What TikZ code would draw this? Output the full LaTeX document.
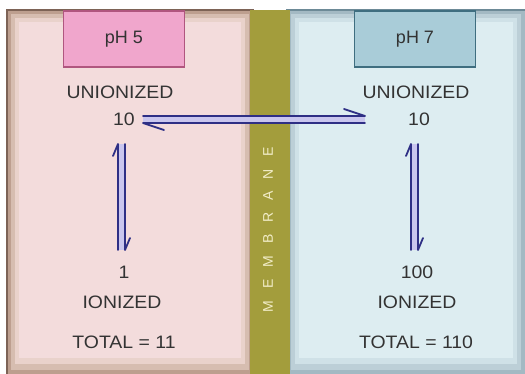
\documentclass[tikz,border=0pt]{standalone}
\usepackage{fontspec}
\setmainfont{Liberation Sans}
\definecolor{lpEdge}{HTML}{7D6356}
\definecolor{lpA}{HTML}{BD9F8F}
\definecolor{lpB}{HTML}{D6BDB0}
\definecolor{lpC}{HTML}{E9D2CB}
\definecolor{lpD}{HTML}{F3DCDC}
\definecolor{rpEdge}{HTML}{6D8A97}
\definecolor{rpA}{HTML}{A3B9C3}
\definecolor{rpB}{HTML}{BCCFD7}
\definecolor{rpC}{HTML}{CFE1E7}
\definecolor{rpD}{HTML}{DDEDF1}
\definecolor{memb}{HTML}{A39D3C}
\definecolor{membtxt}{HTML}{F2EDC8}
\definecolor{phpink}{HTML}{F0A6CC}
\definecolor{phpinkd}{HTML}{B0567F}
\definecolor{phblue}{HTML}{A9CCD8}
\definecolor{phblued}{HTML}{3F6E80}
\definecolor{arr}{HTML}{2E2F85}
\definecolor{arrfill}{HTML}{C9C6EE}
\definecolor{txt}{HTML}{333333}
\tikzset{
  lbl/.style={font=\fontsize{18}{21}\selectfont, text=txt, inner sep=0pt, xscale=1.08},
  phbox/.style={draw, line width=1.2pt, minimum width=121pt, minimum height=56pt, inner sep=0pt, font=\fontsize{18}{21}\selectfont, text=txt},
  harp/.style={draw=arr, line width=1.8pt, line cap=round, line join=round},
  gap/.style={fill=arrfill, draw=none}
}
\begin{document}
\begin{tikzpicture}[x=1pt,y=-1pt]
\useasboundingbox (0,0) rectangle (525,374);
\fill[white] (0,0) rectangle (525,374);
% left panel
\filldraw[fill=lpA, draw=lpEdge, line width=1.5pt] (7,10) rectangle (253,376);
\fill[lpB] (11,14) rectangle (249,370);
\fill[lpC] (15,18) rectangle (245,364);
\fill[lpD] (19,22) rectangle (241,358);
% right panel
\filldraw[fill=rpA, draw=rpEdge, line width=1.5pt] (287,10) rectangle (527,376);
\fill[rpB] (291,14) rectangle (521,370);
\fill[rpC] (295,18) rectangle (517,364);
\fill[rpD] (299,22) rectangle (513,358);
% membrane
\fill[memb] (250,10) rectangle (290,376);
\node[rotate=90, text=membtxt, font=\fontsize{14}{16}\selectfont, inner sep=0pt] (mem) at (268,230)
  {M\hspace{12pt}E\hspace{12pt}M\hspace{12pt}B\hspace{12pt}R\hspace{12pt}A\hspace{12pt}N\hspace{12pt}E};
% pH boxes
\node[phbox, fill=phpink, draw=phpinkd] (ph5) at (124,39) {pH 5};
\node[phbox, fill=phblue, draw=phblued] (ph7) at (415,39) {pH 7};
% left texts
\node[lbl] (lun) at (120,92) {UNIONIZED};
\node[lbl] (l10) at (124,119) {10};
\node[lbl] (l1) at (124,272) {1};
\node[lbl] (lion) at (122,302) {IONIZED};
\node[lbl] (ltot) at (124,342) {TOTAL = 11};
% right texts
\node[lbl] (run) at (416,92) {UNIONIZED};
\node[lbl] (r10) at (419,119) {10};
\node[lbl] (r100) at (417,272) {100};
\node[lbl] (rion) at (417,302) {IONIZED};
\node[lbl] (rtot) at (416,342) {TOTAL = 110};
% arrow end points
\coordinate (hL) at (143,116);
\coordinate (hR) at (365,116);
\coordinate (hL2) at (143,123);
\coordinate (hR2) at (365,123);
\coordinate (lvT) at (118,144);
\coordinate (lvB) at (118,250);
\coordinate (lvT2) at (125,144);
\coordinate (lvB2) at (125,250);
\coordinate (rvT) at (411,144);
\coordinate (rvB) at (411,250);
\coordinate (rvT2) at (418,144);
\coordinate (rvB2) at (418,250);
% fills between harpoons
\fill[gap] (hL) rectangle (hR2);
\fill[gap] (lvT) rectangle (lvB2);
\fill[gap] (rvT) rectangle (rvB2);
% horizontal harpoons
\draw[harp] (hL) -- (hR) -- ++(-21,-7);
\draw[harp] (hR2) -- (hL2) -- ++(21,7);
% left vertical harpoons
\draw[harp] (lvB) -- (lvT) -- ++(-5,12);
\draw[harp] (lvT2) -- (lvB2) -- ++(5,-12);
% right vertical harpoons
\draw[harp] (rvB) -- (rvT) -- ++(-5,12);
\draw[harp] (rvT2) -- (rvB2) -- ++(5,-12);
\end{tikzpicture}
\end{document}
